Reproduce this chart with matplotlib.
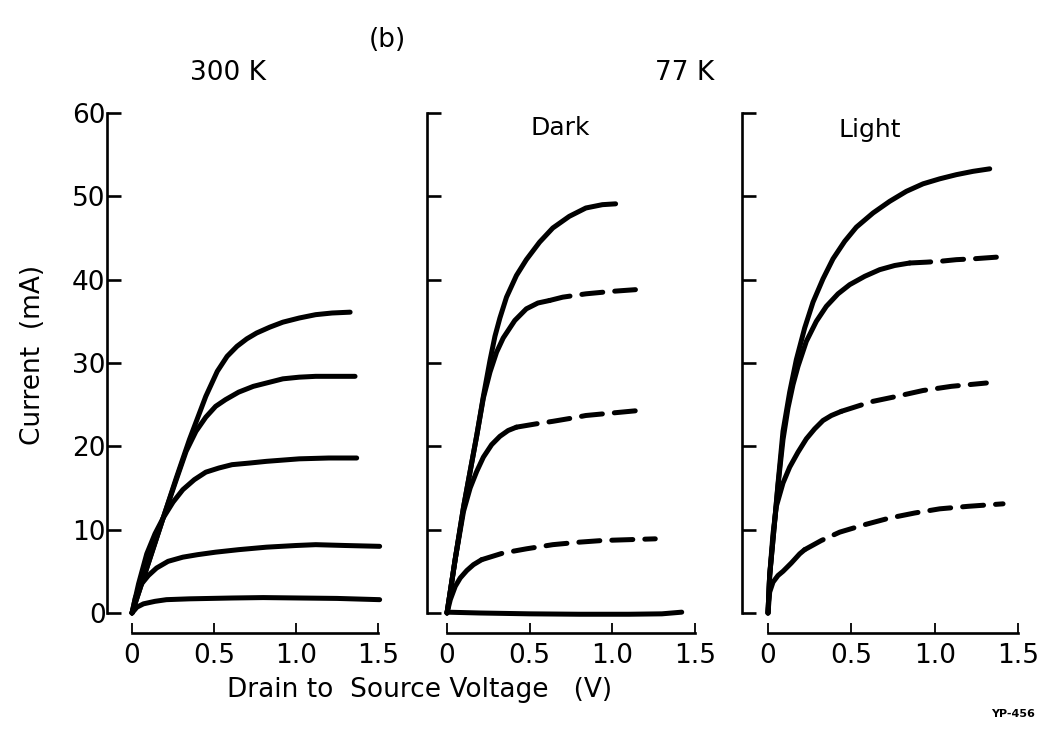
import matplotlib.pyplot as plt

# ---- 300 K panel (V in volts, I in mA)
v300_1 = [0, 0.10, 0.19, 0.27, 0.35, 0.45, 0.52, 0.58, 0.64, 0.70, 0.76, 0.84, 0.92, 1.02, 1.12, 1.22, 1.33]
i300_1 = [0, 6.0, 11.4, 16.2, 20.8, 26.0, 29.0, 30.8, 32.0, 32.9, 33.6, 34.3, 34.9, 35.4, 35.8, 36.0, 36.1]
v300_2 = [0, 0.10, 0.19, 0.27, 0.33, 0.39, 0.45, 0.51, 0.57, 0.65, 0.74, 0.84, 0.92, 1.02, 1.12, 1.36]
i300_2 = [0, 6.0, 11.4, 16.0, 19.4, 21.8, 23.5, 24.8, 25.6, 26.5, 27.2, 27.7, 28.1, 28.3, 28.4, 28.4]
v300_3 = [0, 0.04, 0.09, 0.14, 0.19, 0.25, 0.31, 0.38, 0.45, 0.53, 0.61, 0.72, 0.82, 1.02, 1.20, 1.37]
i300_3 = [0, 3.5, 7.1, 9.5, 11.4, 13.3, 14.8, 16.0, 16.9, 17.4, 17.8, 18.0, 18.2, 18.5, 18.6, 18.6]
v300_4 = [0, 0.02, 0.05, 0.10, 0.15, 0.22, 0.31, 0.40, 0.51, 0.65, 0.82, 1.00, 1.12, 1.30, 1.51]
i300_4 = [0, 1.8, 3.3, 4.5, 5.4, 6.2, 6.7, 7.0, 7.3, 7.6, 7.9, 8.1, 8.2, 8.1, 8.0]
v300_5 = [0, 0.03, 0.07, 0.14, 0.21, 0.35, 0.61, 0.80, 1.02, 1.25, 1.51]
i300_5 = [0, 0.7, 1.1, 1.4, 1.6, 1.7, 1.8, 1.85, 1.8, 1.75, 1.6]

# ---- 77 K dark panel; *_dash = dashed continuation
vd_1 = [0, 0.05, 0.10, 0.14, 0.18, 0.22, 0.26, 0.29, 0.32, 0.36, 0.42, 0.48, 0.56, 0.64, 0.74, 0.84, 0.94, 1.02]
id_1 = [0, 6.5, 12.7, 17.0, 21.3, 26.0, 30.3, 33.2, 35.4, 37.9, 40.5, 42.4, 44.5, 46.2, 47.6, 48.6, 49.0, 49.1]
vd_2 = [0, 0.05, 0.10, 0.14, 0.18, 0.22, 0.26, 0.30, 0.34, 0.41, 0.48, 0.55, 0.62]
id_2 = [0, 6.5, 12.7, 17.0, 21.3, 25.8, 28.9, 31.3, 33.0, 35.1, 36.5, 37.2, 37.5]
vd_2_dash = [0.62, 0.70, 0.84, 1.00, 1.14]
id_2_dash = [37.5, 37.9, 38.3, 38.6, 38.8]
vd_3 = [0, 0.05, 0.10, 0.14, 0.18, 0.22, 0.27, 0.32, 0.37, 0.42]
id_3 = [0, 6.5, 12.2, 15.0, 17.0, 18.7, 20.2, 21.2, 21.9, 22.3]
vd_3_dash = [0.42, 0.54, 0.64, 0.76, 0.84, 1.00, 1.16]
id_3_dash = [22.3, 22.7, 23.0, 23.4, 23.7, 24.0, 24.3]
vd_4 = [0, 0.02, 0.05, 0.08, 0.12, 0.16, 0.21]
id_4 = [0, 1.6, 3.2, 4.2, 5.1, 5.8, 6.4]
vd_4_dash = [0.21, 0.34, 0.48, 0.64, 0.80, 0.94, 1.10, 1.26]
id_4_dash = [6.4, 7.2, 7.7, 8.2, 8.5, 8.7, 8.8, 8.9]
vd_5 = [0, 0.2, 0.5, 0.8, 1.1, 1.3, 1.42]
id_5 = [0.1, 0.0, -0.1, -0.15, -0.15, -0.1, 0.1]

# ---- 77 K light panel
vl_1 = [0, 0.01, 0.03, 0.06, 0.09, 0.13, 0.17, 0.22, 0.27, 0.33, 0.39, 0.46, 0.53, 0.63, 0.73, 0.83, 0.93, 1.03, 1.13, 1.23, 1.33]
il_1 = [0, 4.5, 8.8, 15.5, 21.8, 26.5, 30.4, 34.2, 37.3, 40.1, 42.5, 44.6, 46.3, 48.0, 49.4, 50.6, 51.5, 52.1, 52.6, 53.0, 53.3]
vl_2 = [0, 0.01, 0.03, 0.06, 0.09, 0.12, 0.15, 0.18, 0.23, 0.29, 0.35, 0.42, 0.49, 0.58, 0.67, 0.76, 0.85]
il_2 = [0, 4.5, 8.8, 15.3, 20.8, 24.6, 27.4, 29.6, 32.6, 35.0, 36.8, 38.3, 39.4, 40.4, 41.2, 41.7, 42.0]
vl_2_dash = [0.85, 0.95, 1.03, 1.13, 1.23, 1.37]
il_2_dash = [42.0, 42.1, 42.2, 42.4, 42.5, 42.7]
vl_3 = [0, 0.01, 0.03, 0.05, 0.09, 0.13, 0.18, 0.23, 0.28, 0.33, 0.38, 0.44]
il_3 = [0, 4.5, 9.5, 12.8, 15.6, 17.5, 19.3, 20.9, 22.1, 23.1, 23.7, 24.2]
vl_3_dash = [0.44, 0.55, 0.63, 0.75, 0.93, 1.10, 1.31]
il_3_dash = [24.2, 24.9, 25.4, 25.9, 26.7, 27.2, 27.6]
vl_4 = [0, 0.01, 0.03, 0.06, 0.09, 0.14, 0.19, 0.22]
il_4 = [0, 2.5, 3.7, 4.5, 5.0, 6.0, 7.1, 7.6]
vl_4_dash = [0.22, 0.32, 0.43, 0.58, 0.73, 0.88, 1.03, 1.20, 1.41]
il_4_dash = [7.6, 8.7, 9.7, 10.6, 11.4, 12.0, 12.5, 12.8, 13.1]

x_ticks = [0, 0.5, 1.0, 1.5]
x_ticklabels = ["0", "0.5", "1.0", "1.5"]
y_ticks = [0, 10, 20, 30, 40, 50, 60]

W, H = 1046, 734
LW = 3.6
FS = 19
plt.rcParams['font.family'] = ['DejaVu Sans']

fig = plt.figure(figsize=(W/100, H/100), dpi=100)

def px_axes(left_px, x0_px, px_per_v):
	# place an axes so that V=0 lands on x0_px and I=0 / 60 land on 613 / 113 px
	xmin = -(x0_px - left_px)/px_per_v
	xmax = 1.55
	right_px = x0_px + xmax*px_per_v
	py = 500/60.0
	bot_px = 613 + 1*py
	top_px = 113 - 1*py
	ax = fig.add_axes([left_px/W, 1 - bot_px/H, (right_px - left_px)/W, (bot_px - top_px)/H])
	ax.set_xlim(xmin, xmax)
	ax.set_ylim(-1, 61)
	return ax

def style(ax, ylabels):
	for s in ['top', 'right']:
		ax.spines[s].set_visible(False)
	ax.spines['left'].set_bounds(0, 60)
	ax.spines['bottom'].set_bounds(0, 1.5)
	ax.spines['bottom'].set_position(('outward', 8.4))
	for s in ['left', 'bottom']:
		ax.spines[s].set_linewidth(1.9)
	ax.set_xticks(x_ticks)
	ax.set_xticklabels(x_ticklabels)
	ax.set_yticks(y_ticks)
	ax.tick_params(axis='y', direction='in', length=10, width=1.9, pad=1, labelsize=FS)
	ax.tick_params(axis='x', direction='in', length=7, width=1.3, pad=7, labelsize=FS)
	if not ylabels:
		ax.set_yticklabels([])

def curve(ax, v, i, dashed=False):
	if dashed:
		ax.plot(v, i, color='black', lw=LW, linestyle=(0, (4.2, 2.4)), dash_capstyle='round', clip_on=False)
	else:
		ax.plot(v, i, color='black', lw=LW, solid_capstyle='round', solid_joinstyle='round', clip_on=False)

ax1 = px_axes(107, 132, 164.0)
style(ax1, True)
for v, i in [(v300_1, i300_1), (v300_2, i300_2), (v300_3, i300_3), (v300_4, i300_4), (v300_5, i300_5)]:
	curve(ax1, v, i)

ax2 = px_axes(427, 447, 165.3)
style(ax2, False)
for v, i in [(vd_1, id_1), (vd_2, id_2), (vd_3, id_3), (vd_4, id_4), (vd_5, id_5)]:
	curve(ax2, v, i)
for v, i in [(vd_2_dash, id_2_dash), (vd_3_dash, id_3_dash), (vd_4_dash, id_4_dash)]:
	curve(ax2, v, i, dashed=True)

ax3 = px_axes(742, 768, 166.7)
style(ax3, False)
for v, i in [(vl_1, il_1), (vl_2, il_2), (vl_3, il_3), (vl_4, il_4)]:
	curve(ax3, v, i)
for v, i in [(vl_2_dash, il_2_dash), (vl_3_dash, il_3_dash), (vl_4_dash, il_4_dash)]:
	curve(ax3, v, i, dashed=True)

def label(x, y, s, size=FS, **kw):
	fig.text(x/W, 1 - y/H, s, ha='center', va='center', fontsize=size, **kw)

label(387, 40, "(b)")
label(228, 73, "300 K")
label(685, 73, "77 K")
label(560, 128, "Dark", size=18)
label(870, 130, "Light", size=18)
label(33, 355, "Current  (mA)", rotation=90)
label(420, 690, "Drain to  Source Voltage   (V)")
label(1013, 714, "YP-456", size=8, fontweight='bold')

fig.savefig("out.png", dpi=100)
